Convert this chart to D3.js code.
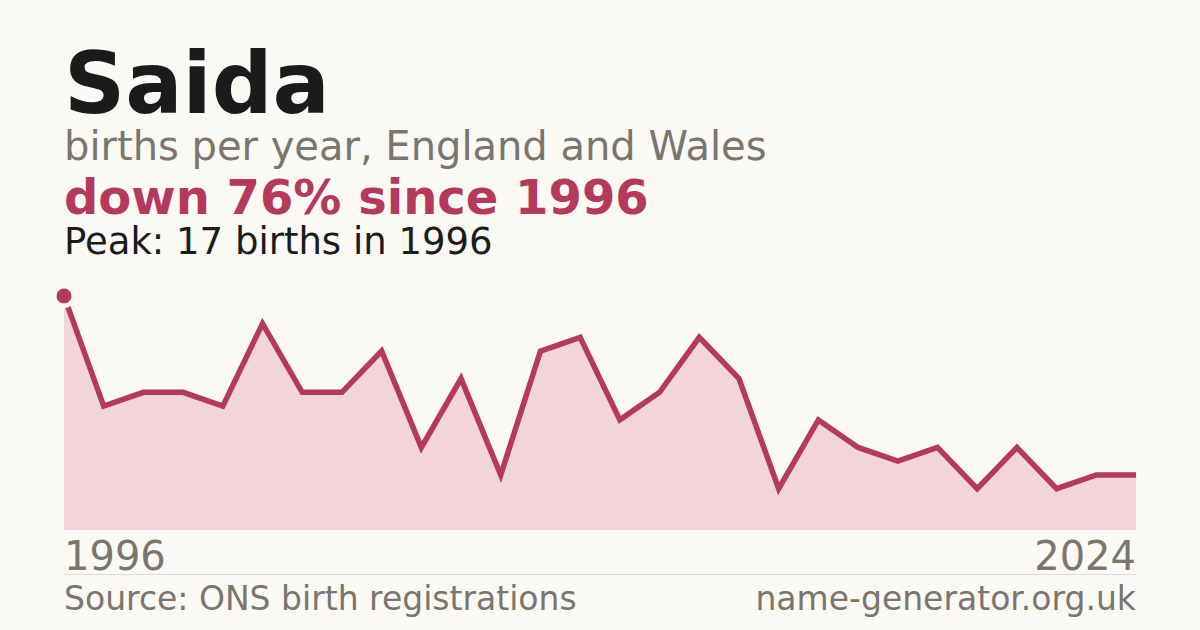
<!DOCTYPE html>
<meta charset="utf-8">
<script src="https://d3js.org/d3.v7.min.js"></script>
<style>
  html, body { margin: 0; padding: 0; background: #faf9f4; }
  svg { display: block; font-family: "DejaVu Sans", sans-serif; }
</style>
<div id="chart"></div>
<script>

// data (one year has no point in the source)
var years = [1996, 1997, 1998, 1999, 2000, 2001, 2002, 2003, 2004, 2005,
             2006, 2007, 2008, 2009, 2010, 2011, 2012, 2013, 2014, 2015,
             2016, 2017, 2018, 2019, 2021, 2022, 2023, 2024];
var births = [17, 9, 10, 10, 9, 15, 10, 10, 13, 6,
              11, 4, 13, 14, 8, 10, 14, 11, 3, 8,
              6, 5, 6, 3, 6, 3, 4, 4];
var axisLabels = ["1996", "2024"];

var name = "Saida";
var subtitle = "births per year, England and Wales";
var change = "down 76% since 1996";
var peakNote = "Peak: 17 births in 1996";
var source = "Source: ONS birth registrations";
var site = "name-generator.org.uk";

var W = 1200, H = 630;
var m = {left: 64, right: 1136, top: 296, bottom: 530};

var svg = d3.select("#chart").append("svg")
  .attr("width", W)
  .attr("height", H);

svg.append("rect").attr("width", W).attr("height", H).attr("fill", "#faf9f4");

var data = years.map(function(y, i) { return {year: y, value: births[i]}; });

var x = d3.scalePoint()
  .domain(years)
  .range([m.left, m.right]);

var y = d3.scaleLinear()
  .domain([0, d3.max(births)])
  .range([m.bottom, m.top]);

// area under the line
svg.append("path")
  .datum(data)
  .attr("fill", "#f1d5da")
  .attr("d", d3.area()
    .x(function(d) { return x(d.year); })
    .y0(y(0))
    .y1(function(d) { return y(d.value); }));

svg.append("path")
  .datum(data)
  .attr("fill", "none")
  .attr("stroke", "#b5395a")
  .attr("stroke-width", 5.5)
  .attr("stroke-linejoin", "miter")
  .attr("d", d3.line()
    .x(function(d) { return x(d.year); })
    .y(function(d) { return y(d.value); }));

// peak marker
var peak = data[d3.maxIndex(data, function(d) { return d.value; })];
svg.append("circle")
  .attr("cx", x(peak.year))
  .attr("cy", y(peak.value))
  .attr("r", 12)
  .attr("fill", "#faf9f4");
svg.append("circle")
  .attr("cx", x(peak.year))
  .attr("cy", y(peak.value))
  .attr("r", 7.5)
  .attr("fill", "#b5395a");

// headings
svg.append("text").attr("x", m.left).attr("y", 113)
  .attr("font-size", 85).attr("font-weight", "bold").attr("fill", "#1b1b1b")
  .text(name);
svg.append("text").attr("x", m.left).attr("y", 160)
  .attr("font-size", 40).attr("fill", "#7a756d")
  .text(subtitle);
svg.append("text").attr("x", m.left).attr("y", 214)
  .attr("font-size", 48).attr("font-weight", "bold").attr("fill", "#b5395a")
  .text(change);
svg.append("text").attr("x", m.left).attr("y", 254)
  .attr("font-size", 37).attr("fill", "#1b1b1b")
  .text(peakNote);

// first and last year
svg.append("text").attr("x", m.left).attr("y", 570)
  .attr("font-size", 40).attr("fill", "#7a756d")
  .text(axisLabels[0]);
svg.append("text").attr("x", m.right).attr("y", 570)
  .attr("font-size", 40).attr("fill", "#7a756d").attr("text-anchor", "end")
  .text(axisLabels[1]);

svg.append("line")
  .attr("x1", m.left).attr("x2", m.right)
  .attr("y1", 574.5).attr("y2", 574.5)
  .attr("stroke", "#dcdad4").attr("stroke-width", 1);

// footer
svg.append("text").attr("x", m.left).attr("y", 610)
  .attr("font-size", 33).attr("fill", "#7a756d")
  .text(source);
svg.append("text").attr("x", m.right).attr("y", 610)
  .attr("font-size", 33).attr("fill", "#7a756d").attr("text-anchor", "end")
  .text(site);

</script>
